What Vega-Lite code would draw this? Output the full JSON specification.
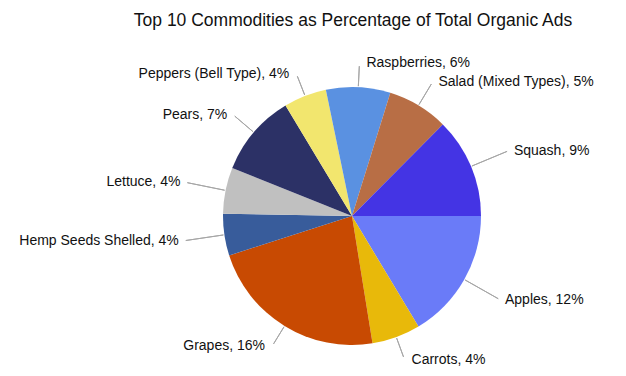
{
  "$schema": "https://vega.github.io/schema/vega-lite/v6.json",
  "width": 548,
  "height": 320,
  "autosize": {"type": "none"},
  "padding": {"left": 78, "top": 56, "right": 0, "bottom": 0},
  "background": "white",
  "title": {
    "text": "Top 10 Commodities as Percentage of Total Organic Ads",
    "font": "Liberation Sans",
    "fontSize": 17.5,
    "fontWeight": "normal",
    "color": "#111111",
    "anchor": "middle",
    "offset": 10,
    "dx": 1
  },
  "data": {
    "values": [
      {"commodity": "Apples", "pct": 11.6, "label": "Apples, 12%"},
      {"commodity": "Carrots", "pct": 4.3, "label": "Carrots, 4%"},
      {"commodity": "Grapes", "pct": 16.0, "label": "Grapes, 16%"},
      {"commodity": "Hemp Seeds Shelled", "pct": 3.7, "label": "Hemp Seeds Shelled, 4%"},
      {"commodity": "Lettuce", "pct": 4.1, "label": "Lettuce, 4%"},
      {"commodity": "Pears", "pct": 7.3, "label": "Pears, 7%"},
      {"commodity": "Peppers (Bell Type)", "pct": 3.8, "label": "Peppers (Bell Type), 4%"},
      {"commodity": "Raspberries", "pct": 5.7, "label": "Raspberries, 6%"},
      {"commodity": "Salad (Mixed Types)", "pct": 5.4, "label": "Salad (Mixed Types), 5%"},
      {"commodity": "Squash", "pct": 8.9, "label": "Squash, 9%"}
    ]
  },
  "encoding": {
    "theta": {"field": "pct", "type": "quantitative", "stack": true, "scale": {"range": [1.5708, 7.854]}},
    "order": {"field": "commodity", "type": "ordinal", "sort": "ascending"}
  },
  "layer": [
    {
      "mark": {"type": "arc", "outerRadius": 129},
      "encoding": {
        "color": {
          "field": "commodity",
          "type": "nominal",
          "legend": null,
          "scale": {
            "domain": ["Apples", "Carrots", "Grapes", "Hemp Seeds Shelled", "Lettuce", "Pears", "Peppers (Bell Type)", "Raspberries", "Salad (Mixed Types)", "Squash"],
            "range": ["#6A7BF8", "#E8B90A", "#C84A02", "#385C9B", "#C0C0C0", "#2C3166", "#F2E66E", "#5A91E1", "#B86E45", "#4434E4"]
          }
        }
      }
    },
    {
      "mark": {"type": "arc", "innerRadius": 130, "outerRadius": 168, "padAngle": 3.1, "filled": false, "stroke": "#A6A6A6", "strokeWidth": 1},
      "encoding": {
        "strokeOpacity": {"condition": {"test": "indexof(['Apples','Squash','Hemp Seeds Shelled','Lettuce'], datum.commodity) >= 0", "value": 1}, "value": 0}
      }
    },
    {
      "mark": {"type": "arc", "innerRadius": 130, "outerRadius": 154, "padAngle": 3.1, "filled": false, "stroke": "#A6A6A6", "strokeWidth": 1},
      "encoding": {
        "strokeOpacity": {"condition": {"test": "indexof(['Salad (Mixed Types)','Pears'], datum.commodity) >= 0", "value": 1}, "value": 0}
      }
    },
    {
      "mark": {"type": "arc", "innerRadius": 130, "outerRadius": 150, "padAngle": 3.1, "filled": false, "stroke": "#A6A6A6", "strokeWidth": 1},
      "encoding": {
        "strokeOpacity": {"condition": {"test": "indexof(['Raspberries','Carrots','Grapes','Peppers (Bell Type)'], datum.commodity) >= 0", "value": 1}, "value": 0}
      }
    },
    {
      "mark": {"type": "text", "radius": 170, "align": "left", "baseline": "middle", "dx": 5, "font": "Liberation Sans", "fontSize": 14, "fill": "#111111"},
      "encoding": {
        "text": {"condition": {"test": "indexof(['Apples','Squash'], datum.commodity) >= 0", "field": "label"}, "value": ""}
      }
    },
    {
      "mark": {"type": "text", "radius": 170, "align": "right", "baseline": "middle", "dx": -5, "font": "Liberation Sans", "fontSize": 14, "fill": "#111111"},
      "encoding": {
        "text": {"condition": {"test": "indexof(['Hemp Seeds Shelled','Lettuce'], datum.commodity) >= 0", "field": "label"}, "value": ""}
      }
    },
    {
      "mark": {"type": "text", "radius": 156, "align": "left", "baseline": "middle", "dx": 6, "font": "Liberation Sans", "fontSize": 14, "fill": "#111111"},
      "encoding": {
        "text": {"condition": {"test": "indexof(['Salad (Mixed Types)'], datum.commodity) >= 0", "field": "label"}, "value": ""}
      }
    },
    {
      "mark": {"type": "text", "radius": 156, "align": "right", "baseline": "middle", "dx": -6, "font": "Liberation Sans", "fontSize": 14, "fill": "#111111"},
      "encoding": {
        "text": {"condition": {"test": "indexof(['Pears'], datum.commodity) >= 0", "field": "label"}, "value": ""}
      }
    },
    {
      "mark": {"type": "text", "radius": 153, "align": "left", "baseline": "middle", "dx": 7, "font": "Liberation Sans", "fontSize": 14, "fill": "#111111"},
      "encoding": {
        "text": {"condition": {"test": "indexof(['Raspberries','Carrots'], datum.commodity) >= 0", "field": "label"}, "value": ""}
      }
    },
    {
      "mark": {"type": "text", "radius": 153, "align": "right", "baseline": "middle", "dx": -7, "font": "Liberation Sans", "fontSize": 14, "fill": "#111111"},
      "encoding": {
        "text": {"condition": {"test": "indexof(['Grapes','Peppers (Bell Type)'], datum.commodity) >= 0", "field": "label"}, "value": ""}
      }
    }
  ],
  "config": {"view": {"stroke": null}}
}
